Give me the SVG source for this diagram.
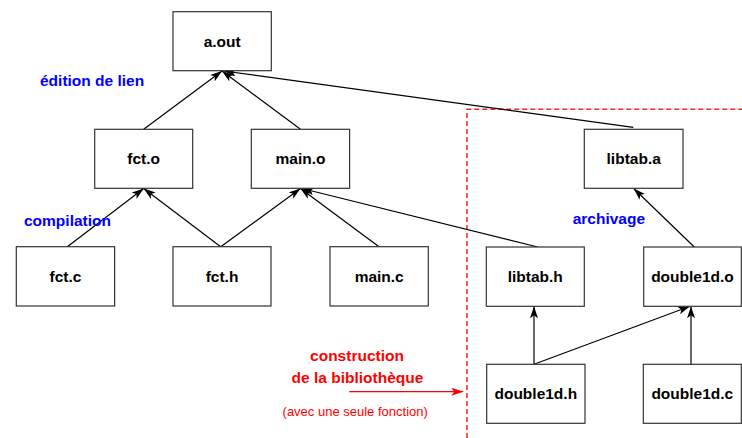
<svg xmlns="http://www.w3.org/2000/svg" width="742" height="438" viewBox="0 0 742 438">
<defs>
<style>
.box{fill:#fff;stroke:#333;stroke-width:1.2}
.lbl{font-family:"Liberation Sans",Arial,sans-serif;font-weight:bold;font-size:15.5px;fill:#000;text-anchor:middle}
.blue{font-family:"Liberation Sans",Arial,sans-serif;font-weight:bold;font-size:15.5px;fill:#0000ff}
.red{font-family:"Liberation Sans",Arial,sans-serif;font-weight:bold;font-size:15.5px;fill:#ff0000;text-anchor:middle}
.redsmall{font-family:"Liberation Sans",Arial,sans-serif;font-size:13px;fill:#ff0000;text-anchor:middle}
.edge{stroke:#000;stroke-width:1.2;fill:none;marker-end:url(#arr)}
</style>
<marker id="arr" viewBox="0 0 12 8" refX="12" refY="4" markerWidth="12" markerHeight="8" markerUnits="userSpaceOnUse" orient="auto">
<path d="M0,0 L12,4 L0,8 L3,4 z" fill="#000"/>
</marker>
<marker id="arrRed" viewBox="0 0 12 8" refX="12" refY="4" markerWidth="12" markerHeight="8" markerUnits="userSpaceOnUse" orient="auto">
<path d="M0,0 L12,4 L0,8 L3,4 z" fill="#ff0000"/>
</marker>
</defs>
<rect width="742" height="438" fill="#fff"/>
<path d="M467,438 L467,109.3 L742,109.3" fill="none" stroke="#ff2020" stroke-width="1.5" stroke-dasharray="5,3"/>
<g id="connectors">
<line class="edge" x1="143.7" y1="129.3" x2="222" y2="71"/>
<line class="edge" x1="300.5" y1="129.3" x2="222" y2="71"/>
<line class="edge" x1="633.3" y1="127.3" x2="224" y2="71"/>
<line class="edge" x1="67.3" y1="246.7" x2="143.7" y2="188.5"/>
<line class="edge" x1="220.7" y1="246.7" x2="143.7" y2="188.5"/>
<line class="edge" x1="220.7" y1="246.7" x2="300.5" y2="188.5"/>
<line class="edge" x1="379" y1="246.7" x2="300.5" y2="188.5"/>
<line class="edge" x1="537.7" y1="247" x2="302" y2="188.5"/>
<line class="edge" x1="694.3" y1="247" x2="633.7" y2="188.5"/>
<line class="edge" x1="534" y1="364.3" x2="534" y2="306.3"/>
<line class="edge" x1="534" y1="364.3" x2="690" y2="306.3"/>
<line class="edge" x1="691" y1="364.3" x2="691" y2="306.3"/>
<line x1="349.3" y1="391.7" x2="463.3" y2="391.7" stroke="#ff0000" stroke-width="1.2" marker-end="url(#arrRed)"/>
</g>
<g id="a_out"><rect class="box" x="173" y="11.7" width="98.3" height="59"/><text class="lbl" x="222.2" y="46.7">a.out</text></g>
<g id="fct_o"><rect class="box" x="94.7" y="129.3" width="98" height="59"/><text class="lbl" x="143.7" y="164.3">fct.o</text></g>
<g id="main_o"><rect class="box" x="251.3" y="129.3" width="98.3" height="59"/><text class="lbl" x="300.5" y="164.3">main.o</text></g>
<g id="libtab_a"><rect class="box" x="584.3" y="129.3" width="98.7" height="59"/><text class="lbl" x="633.7" y="164.3">libtab.a</text></g>
<g id="fct_c"><rect class="box" x="16.3" y="246.7" width="98.3" height="59.3"/><text class="lbl" x="65.5" y="281.8">fct.c</text></g>
<g id="fct_h"><rect class="box" x="173" y="246.7" width="98" height="59.3"/><text class="lbl" x="222" y="281.8">fct.h</text></g>
<g id="main_c"><rect class="box" x="330" y="246.7" width="98.3" height="59.3"/><text class="lbl" x="379.2" y="281.8">main.c</text></g>
<g id="libtab_h"><rect class="box" x="486.3" y="247" width="98" height="59.3"/><text class="lbl" x="535.3" y="282">libtab.h</text></g>
<g id="double1d_o"><rect class="box" x="643.7" y="247" width="97.6" height="59.3"/><text class="lbl" x="692.5" y="282">double1d.o</text></g>
<g id="double1d_h"><rect class="box" x="486.7" y="364.3" width="98.3" height="59"/><text class="lbl" x="535.8" y="399.3">double1d.h</text></g>
<g id="double1d_c"><rect class="box" x="643.3" y="364.3" width="98" height="59"/><text class="lbl" x="692.3" y="399.3">double1d.c</text></g>
<text class="blue" x="40" y="85.5">édition de lien</text>
<text class="blue" x="24" y="225.7">compilation</text>
<text class="blue" x="572.7" y="224.3">archivage</text>
<text class="red" x="357" y="361">construction</text>
<text class="red" x="357.5" y="383.3">de la bibliothèque</text>
<text class="redsmall" x="355.2" y="415.7">(avec une seule fonction)</text>
</svg>
